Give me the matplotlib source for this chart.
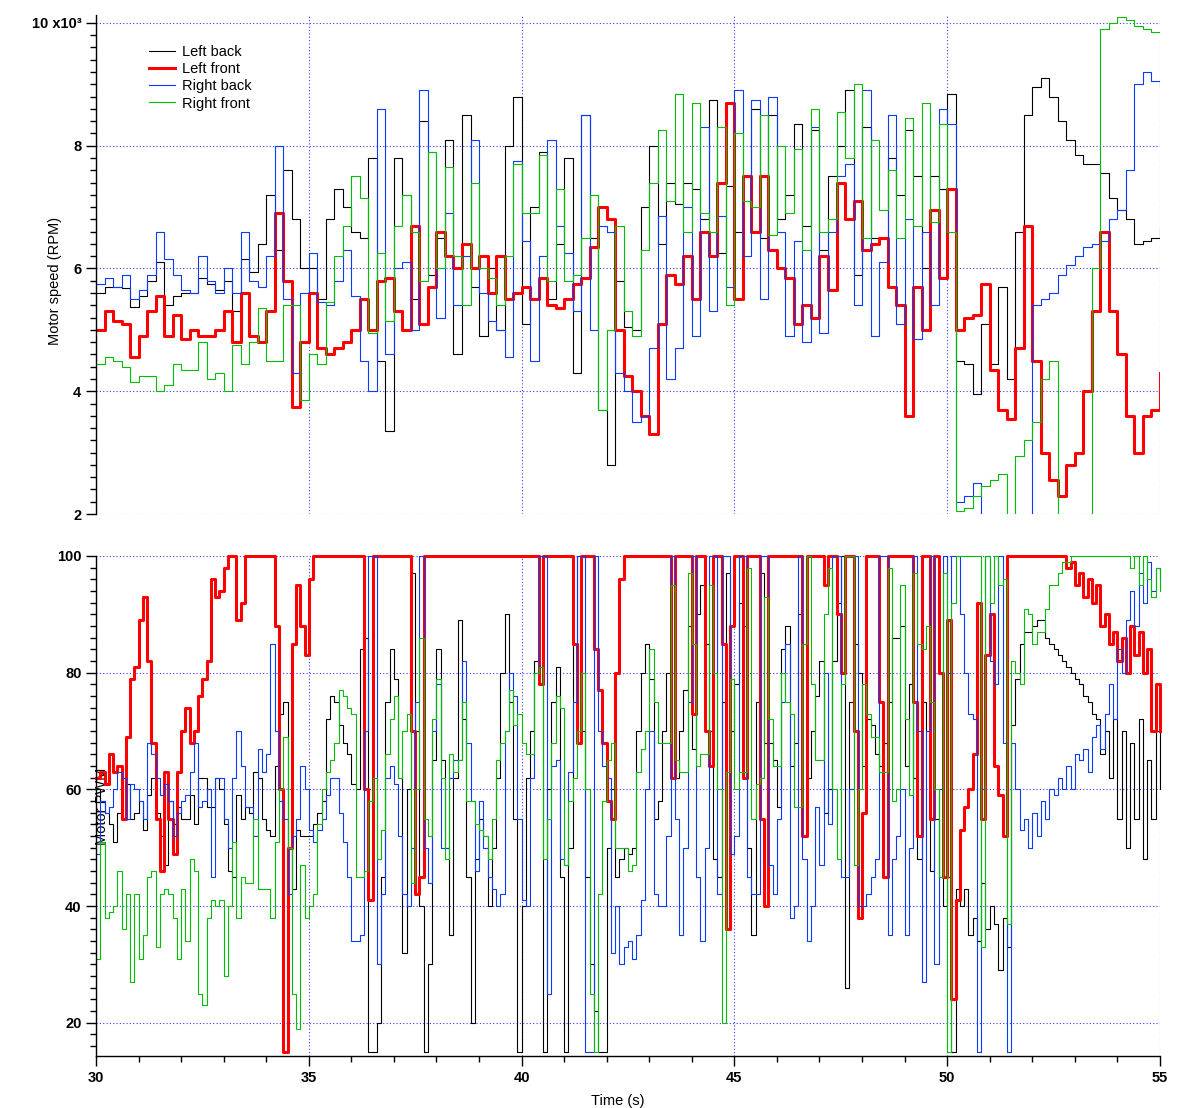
import numpy as np
from matplotlib import pyplot
from matplotlib.ticker import MultipleLocator

pyplot.rcParams['font.family'] = ['Liberation Sans', 'DejaVu Sans']

# sample times (s)
t_speed = np.linspace(30, 55, 126)   # every 0.2 s
t_pwm = np.linspace(30, 55, 251)     # every 0.1 s

series_names = ['Left back', 'Left front', 'Right back', 'Right front']
series_colors = ['#000000', '#ff0000', '#0a3cff', '#00bf00']
series_widths = [0.8, 2.2, 0.8, 0.8]

# motor speed in thousands of RPM, one row per second
speed_left_back = [
    5.6, 5.7, 5.7, 5.68, 5.38,
    5.55, 5.8, 6.1, 5.4, 5.55,
    5.6, 5.6, 5.85, 5.75, 5.65,
    5.8, 5.3, 6.15, 5.95, 6.4,
    7.2, 6.3, 7.6, 6.8, 6.0,
    6.0, 5.5, 6.8, 7.3, 7.0,
    6.6, 6.5, 7.8, 4.5, 3.35,
    7.8, 7.2, 5.5, 8.4, 5.9,
    6.5, 8.1, 4.6, 8.5, 5.7,
    4.9, 6.0, 5.0, 8.0, 8.8,
    5.1, 7.0, 7.9, 5.5, 6.4,
    7.8, 4.3, 8.5, 6.5, 3.7,
    2.8, 5.8, 5.05, 5.0, 7.0,
    8.0, 6.4, 7.4, 7.05, 7.4,
    7.3, 6.8, 8.75, 6.25, 7.35,
    6.6, 7.5, 8.6, 6.5, 8.5,
    6.8, 7.2, 8.35, 6.7, 8.25,
    6.3, 7.5, 8.0, 8.9, 5.9,
    8.3, 6.5, 6.5, 7.8, 7.2,
    8.25, 7.5, 6.0, 7.5, 7.3,
    8.85, 4.5, 4.45, 3.95, 5.1,
    4.45, 5.7, 4.2, 6.6, 8.5,
    8.95, 9.1, 8.8, 8.4, 8.1,
    7.85, 7.7, 7.7, 7.55, 7.15,
    6.95, 6.8, 6.4, 6.45, 6.5,
    6.65,
]
speed_left_front = [
    5.0, 5.3, 5.15, 5.1, 4.55,
    4.9, 5.3, 5.55, 4.9, 5.25,
    4.85, 5.0, 4.9, 4.9, 5.0,
    5.3, 4.8, 5.6, 4.9, 4.8,
    5.3, 6.9, 5.8, 3.75, 4.8,
    5.6, 4.7, 4.6, 4.7, 4.8,
    5.0, 5.5, 5.0, 5.8, 5.85,
    5.3, 5.0, 6.7, 5.1, 5.7,
    6.6, 6.2, 6.0, 6.4, 6.0,
    6.2, 5.6, 6.2, 5.5, 5.6,
    5.7, 5.5, 5.85, 5.4, 5.35,
    5.5, 5.75, 5.85, 6.35, 7.0,
    6.8, 5.0, 4.25, 4.0, 3.6,
    3.3, 5.1, 5.9, 5.75, 6.2,
    5.5, 6.6, 6.2, 7.4, 8.7,
    5.5, 7.5, 6.6, 7.5, 6.3,
    6.0, 5.85, 5.1, 5.4, 5.2,
    6.2, 5.65, 7.4, 6.8, 7.1,
    6.3, 6.4, 6.5, 5.7, 5.4,
    3.6, 5.7, 5.0, 6.95, 5.85,
    7.3, 5.0, 5.2, 5.25, 5.75,
    4.35, 3.7, 3.55, 4.7, 6.7,
    4.5, 3.0, 2.55, 2.3, 2.8,
    3.0, 4.0, 5.3, 6.6, 5.3,
    4.6, 3.6, 3.0, 3.6, 3.7,
    4.3,
]
speed_right_back = [
    5.75, 5.85, 5.7, 5.9, 5.5,
    5.65, 5.9, 6.6, 6.15, 5.9,
    5.65, 5.6, 6.2, 5.8, 5.6,
    6.0, 5.6, 6.6, 5.8, 5.7,
    6.2, 8.0, 5.5, 4.3, 5.6,
    6.25, 5.45, 5.4, 5.8, 6.3,
    5.55, 4.5, 4.0, 8.6, 4.6,
    6.0, 6.1, 5.0, 8.9, 7.9,
    5.2, 6.9, 5.4, 6.2, 8.1,
    5.6, 5.15, 5.0, 4.55, 7.75,
    6.45, 4.5, 6.2, 8.1, 6.7,
    6.25, 5.3, 8.5, 5.0, 6.7,
    6.6, 4.3, 4.0, 3.5, 3.6,
    4.7, 6.85, 4.2, 4.7, 7.0,
    4.9, 8.3, 5.3, 6.85, 5.7,
    8.9, 6.2, 8.75, 5.5, 8.8,
    6.6, 4.9, 6.45, 4.8, 8.3,
    4.95, 6.6, 7.5, 7.7, 5.4,
    8.9, 4.9, 6.1, 8.5, 5.1,
    6.8, 4.85, 6.6, 5.4, 8.6,
    8.35, 2.2, 2.3, 2.5, 1.5,
    1.5, 1.5, 1.5, 1.5, 1.5,
    5.4, 5.5, 5.6, 5.9, 6.05,
    6.2, 6.35, 6.4, 6.45, 6.8,
    6.95, 7.6, 9.0, 9.2, 9.05,
    8.95,
]
speed_right_front = [
    4.45, 4.55, 4.5, 4.4, 4.15,
    4.25, 4.25, 4.0, 4.1, 4.45,
    4.35, 4.35, 4.8, 4.2, 4.3,
    4.0, 4.75, 4.45, 4.8, 5.35,
    4.5, 4.5, 5.4, 5.4, 3.85,
    4.6, 4.45, 5.45, 6.2, 6.7,
    7.5, 7.15, 4.95, 6.25, 5.15,
    6.7, 7.2, 6.6, 5.8, 7.9,
    6.0, 7.65, 6.2, 5.4, 7.4,
    6.0, 5.85, 5.4, 6.2, 7.7,
    6.9, 6.9, 7.85, 5.8, 7.3,
    5.8, 5.9, 6.5, 7.2, 3.7,
    5.0, 6.7, 5.3, 4.9, 6.3,
    7.4, 8.25, 7.1, 8.85, 6.6,
    8.7, 6.9, 6.6, 8.3, 5.4,
    8.2, 7.1, 7.0, 8.5, 6.55,
    8.0, 6.9, 7.95, 6.3, 8.6,
    6.6, 6.8, 8.55, 7.8, 9.0,
    6.5, 8.1, 6.95, 7.6, 6.5,
    8.45, 6.7, 8.7, 6.75, 8.35,
    6.6, 2.05, 2.1, 2.3, 2.45,
    2.55, 2.65, 1.5, 2.95, 3.2,
    3.5, 4.2, 4.5, 1.5, 1.5,
    1.5, 1.5, 6.0, 9.9, 10.0,
    10.1, 10.05, 9.95, 9.9, 9.85,
    9.8,
]

# motor PWM (%), one row per second
pwm_left_back = [
    60, 58, 56, 54, 51, 56, 55, 61, 55, 56,
    58, 53, 59, 62, 56, 52, 47, 58, 54, 57,
    55, 55, 59, 54, 62, 62, 57, 57, 62, 60,
    54, 46, 45, 59, 55, 57, 56, 63, 62, 55,
    53, 52, 64, 73, 75, 50, 43, 53, 52, 52,
    52, 54, 56, 58, 72, 76, 75, 71, 68, 66,
    61, 60, 84, 86, 15, 15, 20, 45, 75, 84,
    79, 62, 32, 60, 97, 70, 40, 15, 30, 65,
    84, 65, 50, 35, 62, 89, 72, 45, 20, 48,
    55, 52, 40, 50, 62, 80, 90, 75, 55, 15,
    40, 62, 70, 82, 78, 15, 60, 75, 81, 45,
    15, 50, 85, 100, 70, 45, 30, 22, 15, 15,
    50, 60, 45, 48, 50, 49, 50, 70, 80, 85,
    79, 55, 58, 70, 80, 95, 62, 70, 77, 88,
    67, 90, 95, 85, 70, 48, 45, 75, 97, 70,
    78, 92, 88, 50, 35, 75, 97, 68, 68, 65,
    57, 84, 88, 64, 68, 90, 85, 62, 70, 76,
    82, 56, 60, 82, 92, 100, 26, 75, 85, 80,
    64, 72, 71, 66, 64, 68, 75, 86, 86, 88,
    64, 78, 62, 48, 75, 70, 46, 55, 45, 40,
    45, 15, 43, 40, 43, 35, 38, 34, 44, 36,
    40, 37, 29, 38, 33, 71, 79, 85, 87, 87,
    88, 89, 89, 86, 85, 84, 83, 82, 81, 80,
    79, 78, 76, 75, 73, 72, 66, 70, 62, 72,
    55, 70, 50, 68, 55, 72, 48, 65, 55, 70,
    60,
]
pwm_left_front = [
    62, 63, 61, 66, 63, 64, 55, 69, 79, 81,
    89, 93, 82, 68, 55, 46, 63, 55, 49, 63,
    70, 74, 68, 70, 76, 79, 82, 96, 93, 94,
    98, 100, 100, 89, 92, 100, 100, 100, 100, 100,
    100, 100, 88, 60, 15, 50, 85, 95, 88, 83,
    96, 100, 100, 100, 100, 100, 100, 100, 100, 100,
    100, 100, 100, 60, 41, 100, 100, 100, 100, 100,
    100, 100, 100, 100, 70, 42, 45, 100, 100, 100,
    100, 100, 100, 100, 100, 100, 100, 100, 100, 100,
    100, 100, 100, 100, 100, 100, 100, 100, 100, 100,
    100, 100, 100, 100, 78, 100, 100, 100, 100, 100,
    100, 100, 85, 68, 100, 100, 100, 84, 77, 68,
    58, 55, 80, 96, 100, 100, 100, 100, 100, 100,
    100, 100, 100, 100, 100, 62, 100, 100, 100, 100,
    73, 100, 100, 70, 64, 100, 100, 85, 36, 88,
    100, 100, 62, 100, 100, 100, 55, 40, 100, 100,
    100, 100, 100, 100, 100, 100, 52, 100, 100, 100,
    100, 95, 100, 100, 90, 80, 100, 100, 70, 38,
    56, 100, 100, 100, 75, 45, 100, 100, 100, 100,
    100, 100, 75, 52, 100, 100, 55, 100, 80, 45,
    89, 24, 41, 53, 57, 60, 66, 92, 55, 83,
    90, 64, 59, 52, 100, 100, 100, 100, 100, 100,
    100, 100, 100, 100, 100, 100, 100, 100, 98, 99,
    95, 97, 93, 96, 92, 95, 88, 90, 85, 87,
    82, 86, 80, 88, 83, 87, 80, 84, 70, 78,
    70,
]
pwm_right_back = [
    49, 58, 56, 57, 60, 63, 62, 55, 61, 60,
    58, 55, 68, 66, 62, 59, 61, 58, 52, 56,
    58, 59, 63, 68, 57, 58, 60, 45, 62, 62,
    55, 50, 62, 70, 64, 57, 57, 52, 67, 63,
    66, 85, 70, 58, 55, 42, 52, 55, 64, 60,
    53, 51, 53, 55, 59, 62, 62, 56, 51, 45,
    34, 34, 35, 70, 100, 100, 30, 42, 62, 64,
    61, 52, 42, 40, 50, 75, 100, 50, 44, 70,
    78, 50, 50, 62, 65, 65, 82, 68, 58, 46,
    58, 50, 45, 43, 40, 42, 70, 80, 76, 55,
    41, 40, 62, 80, 100, 100, 25, 64, 65, 48,
    47, 63, 75, 100, 100, 15, 15, 100, 70, 64,
    62, 32, 40, 30, 33, 34, 31, 35, 41, 60,
    70, 42, 40, 40, 52, 100, 55, 35, 50, 75,
    100, 45, 34, 50, 100, 100, 42, 100, 100, 49,
    52, 100, 100, 45, 42, 42, 100, 100, 47, 42,
    55, 75, 85, 38, 40, 100, 48, 34, 40, 57,
    47, 80, 54, 100, 100, 45, 45, 60, 100, 40,
    40, 42, 45, 48, 100, 100, 35, 48, 52, 60,
    35, 50, 100, 70, 27, 70, 100, 30, 60, 100,
    80, 100, 100, 90, 80, 73, 72, 15, 60, 100,
    82, 78, 100, 68, 15, 68, 60, 53, 55, 50,
    56, 52, 58, 55, 60, 59, 62, 60, 64, 60,
    66, 65, 67, 63, 69, 71, 67, 73, 78, 72,
    84, 80, 89, 94, 88, 97, 92, 99, 94, 98,
    96,
]
pwm_right_front = [
    31, 51, 38, 39, 40, 46, 36, 42, 27, 42,
    31, 35, 45, 46, 33, 42, 43, 42, 38, 31,
    43, 34, 48, 46, 25, 23, 38, 41, 40, 41,
    28, 40, 51, 38, 45, 44, 44, 55, 43, 43,
    43, 38, 51, 60, 69, 50, 25, 19, 47, 38,
    40, 42, 54, 60, 63, 65, 68, 77, 76, 74,
    73, 45, 45, 46, 58, 62, 48, 53, 66, 72,
    76, 62, 70, 73, 44, 60, 86, 55, 52, 72,
    79, 62, 48, 66, 63, 65, 75, 58, 58, 54,
    53, 52, 48, 55, 65, 68, 70, 77, 71, 73,
    68, 66, 66, 80, 81, 48, 55, 68, 76, 74,
    47, 58, 62, 70, 80, 60, 25, 15, 42, 58,
    65, 68, 50, 50, 50, 46, 47, 63, 67, 70,
    84, 75, 68, 68, 68, 95, 65, 63, 63, 97,
    85, 64, 66, 66, 95, 80, 60, 20, 63, 79,
    60, 63, 63, 98, 55, 61, 62, 93, 72, 64,
    64, 80, 75, 73, 57, 57, 85, 100, 78, 65,
    65, 90, 98, 60, 48, 78, 100, 100, 47, 60,
    78, 73, 69, 69, 63, 63, 98, 58, 60, 95,
    72, 59, 97, 85, 84, 88, 75, 60, 45, 97,
    15, 92, 100, 100, 100, 100, 100, 100, 33, 100,
    92, 100, 95, 96, 37, 82, 80, 78, 91, 90,
    85, 87, 87, 91, 95, 95, 97, 99, 99, 100,
    100, 100, 100, 100, 100, 100, 100, 100, 100, 100,
    100, 100, 100, 98, 100, 95, 100, 96, 93, 98,
    94,
]

GRID = dict(color='#3a3aff', linestyle=(0, (1, 2)), linewidth=0.8)


def style_axis(ax):
    for side in ('top', 'right'):
        ax.spines[side].set_visible(False)
    ax.spines['left'].set_linewidth(1.0)
    ax.spines['bottom'].set_linewidth(1.0)
    ax.tick_params(which='both', direction='out', width=1.0, labelsize=10.5, pad=3)
    ax.tick_params(which='major', length=7.5)
    ax.tick_params(which='minor', length=4.2)
    ax.set_xlim(30, 55)
    ax.xaxis.set_major_locator(MultipleLocator(5))
    ax.xaxis.set_minor_locator(MultipleLocator(1))
    ax.grid(True, which='major', **GRID)
    ax.set_axisbelow(True)


def bold_ticklabels(ax):
    for lab in ax.get_xticklabels() + ax.get_yticklabels():
        lab.set_fontweight('bold')


def plot_speed(ax):
    speeds = [speed_left_back, speed_left_front, speed_right_back, speed_right_front]
    lines = []
    for vals, name, col, lw in zip(speeds, series_names, series_colors, series_widths):
        ln, = ax.plot(t_speed, np.array(vals) * 1000, drawstyle='steps-post',
                      color=col, lw=lw, label=name)
        lines.append(ln)
    style_axis(ax)
    ax.set_ylim(2000, 10130)
    ax.set_yticks([2000, 4000, 6000, 8000, 10000])
    ax.set_yticklabels(['2', '4', '6', '8', '10 x10³'])
    ax.yaxis.set_minor_locator(MultipleLocator(200))
    ax.spines['bottom'].set_visible(False)
    ax.tick_params(axis='x', which='both', bottom=False, labelbottom=False)
    bold_ticklabels(ax)
    ax.set_ylabel('Motor speed (RPM)', fontsize=10.5)
    ax.yaxis.set_label_coords(-0.032, 0.467)
    ax.legend(handles=lines, loc='upper left', bbox_to_anchor=(0.05, 0.94),
              frameon=False, fontsize=10.5, borderpad=0, borderaxespad=0,
              handlelength=1.75, handletextpad=0.5, labelspacing=0.22)


def plot_pwm(ax):
    pwms = [pwm_left_back, pwm_left_front, pwm_right_back, pwm_right_front]
    for vals, col, lw in zip(pwms, series_colors, series_widths):
        ax.plot(t_pwm, vals, drawstyle='steps-post', color=col, lw=lw, clip_on=False)
    style_axis(ax)
    ax.set_ylim(14.3, 100)
    ax.set_yticks([20, 40, 60, 80, 100])
    ax.yaxis.set_minor_locator(MultipleLocator(2))
    bold_ticklabels(ax)
    ax.set_xlabel('Time (s)', fontsize=10.5)
    ax.xaxis.set_label_coords(0.49, -0.075)
    ax.set_ylabel('Motor PWM', fontsize=10.5)
    ax.yaxis.set_label_coords(0.012, 0.5)


def main():
    fig = pyplot.figure(figsize=(11.94, 11.08), dpi=100)
    ax_speed = fig.add_axes([0.0804, 0.5361, 0.8911, 0.4504])
    ax_pwm = fig.add_axes([0.0804, 0.0469, 0.8911, 0.4513])
    plot_speed(ax_speed)
    plot_pwm(ax_pwm)
    fig.savefig('out.png', dpi=100)


if __name__ == '__main__':
    main()
